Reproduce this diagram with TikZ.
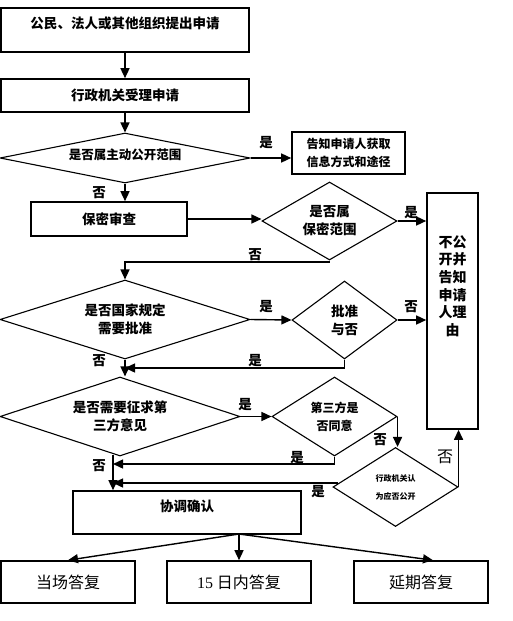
\documentclass[tikz,border=0pt]{standalone}
\usepackage{fontspec}
\setmainfont{Noto Sans CJK SC}
\newfontfamily\latinserif{Liberation Serif}
\usetikzlibrary{shapes.geometric,arrows.meta}
\begin{document}
\begin{tikzpicture}[x=1pt,y=-1pt,
  box/.style={draw, line width=1.6pt, inner sep=0pt},
  dia/.style={draw, diamond, line width=1.1pt, inner sep=0pt},
  arr/.style={line width=1.4pt, -{Triangle[length=10pt,width=9pt]}},
  t/.style={font=\fontsize{13.5}{18}\selectfont\bfseries, align=center, inner sep=0pt},
  ts/.style={font=\fontsize{12}{18}\selectfont\bfseries, align=center, inner sep=0pt},
  tx/.style={font=\fontsize{8}{18}\selectfont\bfseries, align=center, inner sep=0pt},
  yn/.style={font=\fontsize{13.5}{14}\selectfont\bfseries, inner sep=0pt},
  big/.style={font=\fontsize{16}{18}\selectfont}]
\useasboundingbox (0,0) rectangle (512,621);

% boxes and diamonds
\node[box, minimum width=248pt, minimum height=44pt,
      label={[t, yshift=7pt]center:公民、法人或其他组织提出申请}] (b1) at (125,30) {};
\node[box, t, minimum width=248pt, minimum height=33pt] (b2) at (125,95.5) {行政机关受理申请};
\node[dia, minimum width=250pt, minimum height=50pt,
      label={[ts, font=\fontsize{12.5}{18}\selectfont\bfseries, yshift=3pt]center:是否属主动公开范围}] (d1) at (125,158) {};
\node[box, ts, minimum width=113pt, minimum height=42pt] (b3) at (348.5,153) {告知申请人获取\\信息方式和途径};
\node[box, t, minimum width=156pt, minimum height=34pt] (b4) at (109,219) {保密审查};
\node[dia, minimum width=135pt, minimum height=78pt,
      label={[t]center:是否属\\保密范围}] (d2) at (329.5,221) {};
\node[box, minimum width=51pt, minimum height=236pt,
      label={[t, font=\fontsize{14}{17.6}\selectfont\bfseries, yshift=25pt]center:不公\\开并\\告知\\申请\\人理\\由}] (bb) at (452.5,311) {};
\node[dia, minimum width=250pt, minimum height=79pt,
      label={[t]center:是否国家规定\\需要批准}] (d3) at (125,319.5) {};
\node[dia, minimum width=105pt, minimum height=78pt,
      label={[t]center:批准\\与否}] (d4) at (344.5,320) {};
\node[dia, minimum width=240pt, minimum height=79pt,
      label={[t]center:是否需要征求第\\三方意见}] (d5) at (120,416.5) {};
\node[dia, minimum width=125pt, minimum height=79pt,
      label={[ts]center:第三方是\\否同意}] (d6) at (334.5,416.5) {};
\node[dia, minimum width=125pt, minimum height=79pt,
      label={[tx]center:行政机关认\\为应否公开}] (d7) at (395.5,487) {};
\node[box, minimum width=228pt, minimum height=43pt,
      label={[t, yshift=6.5pt]center:协调确认}] (b5) at (187,512.5) {};
\node[box, big, minimum width=134pt, minimum height=42pt] (r1) at (68,582) {当场答复};
\node[box, big, minimum width=144pt, minimum height=42pt] (r2) at (239,582) {{\latinserif 15} 日内答复};
\node[box, big, minimum width=134pt, minimum height=42pt] (r3) at (421,582) {延期答复};

% helper coordinates
\coordinate (c1) at (125,262);
\coordinate (c2) at (125,368);
\coordinate (c3) at (113,464);
\coordinate (c4) at (113,483);
\coordinate (fan) at (239,534);

% connectors
\draw[arr] (b1.south) -- (b2.north);
\draw[arr] (b2.south) -- (d1.north);
\draw[arr] (d1.east) -- (d1.east -| b3.west);
\draw[arr] (d1.south) -- (d1.south |- b4.north);
\draw[arr] (b4.east) -- (b4.east -| d2.west);
\draw[arr] (d2.east) -- (d2.east -| bb.west);
\draw[arr] (d2.south) |- (c1) -- (d3.north);
\draw[arr] (d3.east) -- (d4.west);
\draw[arr] (d4.east) -- (d4.east -| bb.west);
\draw[arr] (d4.south) |- (c2);
\draw[arr] (d3.south) -- (d3.south |- d5.north);
\draw[arr] (d5.east) -- (d6.west);
\draw[arr] (d6.east) -- (d6.east |- d7.north);
\draw[arr] ([xshift=-7pt, yshift=2pt]d5.south) -- ([xshift=-7pt]d5.south |- b5.north);
\draw[arr] (d6.south) |- (c3);
\draw[arr] ([xshift=6pt, yshift=4pt]d7.west) -- (c4);
\draw[arr] (d7.east) -- (d7.east |- bb.south);
\draw[arr] (fan) -- (r1.north);
\draw[arr] (fan) -- (r2.north);
\draw[arr] (fan) -- ([xshift=12pt]r3.north);

% yes / no labels
\node[yn] (y1) at (266,143) {是};
\node[yn] (n1) at (99,193) {否};
\node[yn] (y2) at (411,213) {是};
\node[yn] (n2) at (255,255) {否};
\node[yn] (y3) at (266,307) {是};
\node[yn] (n3) at (411,307) {否};
\node[yn] (n4) at (99,361) {否};
\node[yn] (y4) at (255,361) {是};
\node[yn] (y5) at (245,405) {是};
\node[yn] (n5) at (380,440) {否};
\node[yn] (y6) at (297,458) {是};
\node[yn] (n6) at (99,466) {否};
\node[yn] (y7) at (318,492) {是};
\node[big] (n7) at (445,457) {否};
\end{tikzpicture}
\end{document}
